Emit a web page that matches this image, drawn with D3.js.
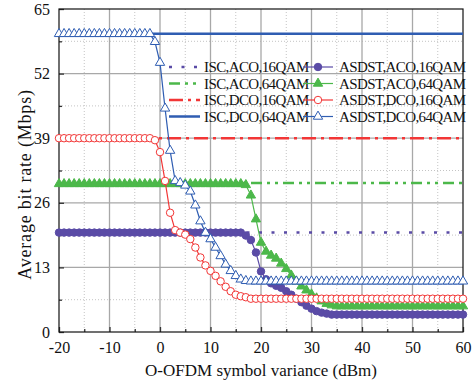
<!DOCTYPE html>
<html>
<head>
<meta charset="utf-8">
<script src="https://cdn.jsdelivr.net/npm/d3@7"></script>
<style>
  body { margin: 0; background: #fff; }
  text { font-family: "Liberation Serif", "Times New Roman", Times, serif; }
</style>
</head>
<body>
<div id="chart"></div>
<script>
// x grid of the curves (dBm), one point every 1 dBm
var variance = d3.range(-20, 61, 1);

// ISC reference levels (constant lines)
var iscAco16 = 20;
var iscAco64 = 30;
var iscDco16 = 39;
var iscDco64 = 60;

// ASDST curves (-20 ... 60 dBm)
var asdstAco16 = [
  20, 20, 20, 20, 20, 20, 20, 20, 20, 20,          // -20..-11
  20, 20, 20, 20, 20, 20, 20, 20, 20, 20,          // -10..-1
  20, 20, 20, 20, 20, 20, 20, 20, 20, 20,          // 0..9
  20, 20, 20, 20, 20, 20, 20, 19.4, 18.5, 16,      // 10..19
  12.2, 10.6, 9.8, 9.3, 8.9, 8.2, 7.5, 6.7, 6.0, 5.3, // 20..29
  4.7, 4.2, 3.9, 3.7, 3.5, 3.5, 3.5, 3.5, 3.5, 3.5,   // 30..39
  3.5, 3.5, 3.5, 3.5, 3.5, 3.5, 3.5, 3.5, 3.5, 3.5,   // 40..49
  3.5, 3.5, 3.5, 3.5, 3.5, 3.5, 3.5, 3.5, 3.5, 3.5,   // 50..59
  3.5                                              // 60
];
var asdstAco64 = [
  29.8, 29.8, 29.8, 29.8, 29.8, 29.8, 29.8, 29.8, 29.8, 29.8,
  29.8, 29.8, 29.8, 29.8, 29.8, 29.8, 29.8, 29.8, 29.8, 29.8,
  29.8, 29.8, 29.8, 29.8, 29.8, 29.8, 29.8, 29.8, 29.8, 29.8,
  29.8, 29.8, 29.8, 29.8, 29.8, 29.8, 29.8, 29.6, 27.5, 22.7,
  18, 16.2, 15.4, 14.8, 13.8, 12.7, 11.4, 10.2, 9.2, 8.4,
  7.6, 6.8, 6.2, 5.7, 5.4, 5.2, 5.2, 5.2, 5.2, 5.2,
  5.2, 5.2, 5.2, 5.2, 5.2, 5.2, 5.2, 5.2, 5.2, 5.2,
  5.2, 5.2, 5.2, 5.2, 5.2, 5.2, 5.2, 5.2, 5.2, 5.2,
  5.2
];
var asdstDco16 = [
  39, 39, 39, 39, 39, 39, 39, 39, 39, 39,
  39, 39, 39, 39, 39, 39, 39, 39, 39, 38.6,
  36.2, 30.4, 24, 20.5, 20, 19.6, 18.7, 17, 15, 13.4,
  12.3, 11.3, 10.2, 9.1, 8.2, 7.5, 7.2, 7.0, 6.7, 6.7,
  6.7, 6.7, 6.7, 6.7, 6.7, 6.7, 6.7, 6.7, 6.7, 6.7,
  6.7, 6.7, 6.7, 6.7, 6.7, 6.7, 6.7, 6.7, 6.7, 6.7,
  6.7, 6.7, 6.7, 6.7, 6.7, 6.7, 6.7, 6.7, 6.7, 6.7,
  6.7, 6.7, 6.7, 6.7, 6.7, 6.7, 6.7, 6.7, 6.7, 6.7,
  6.7
];
var asdstDco64 = [
  60, 60, 60, 60, 60, 60, 60, 60, 60, 60,
  60, 60, 60, 60, 60, 60, 60, 60, 60, 58.4,
  54.2, 45, 36.5, 30.4, 30, 29.5, 28.3, 25.5, 22.3, 20,
  18.7, 17, 15.3, 13.6, 12.3, 11.3, 10.6, 10.3, 10.2, 10.2,
  10.2, 10.2, 10.2, 10.2, 10.2, 10.2, 10.2, 10.2, 10.2, 10.2,
  10.2, 10.2, 10.2, 10.2, 10.2, 10.2, 10.2, 10.2, 10.2, 10.2,
  10.2, 10.2, 10.2, 10.2, 10.2, 10.2, 10.2, 10.2, 10.2, 10.2,
  10.2, 10.2, 10.2, 10.2, 10.2, 10.2, 10.2, 10.2, 10.2, 10.2,
  10.2
];

// tick labels
var xTicks = [-20, -10, 0, 10, 20, 30, 40, 50, 60];
var xMinor = [-15, -5, 5, 15, 25, 35, 45, 55];
var yTicks = [0, 13, 26, 39, 52, 65];
var yMinor = [6.5, 19.5, 32.5, 45.5, 58.5];

var purple = '#5a4ba6', green = '#4cb84a', red = '#f23636', blue = '#2f5db2';
var serif = 'Liberation Serif';

var fullWidth = 476, fullHeight = 386;
var margin = {top: 9, right: 13, bottom: 54, left: 59};
var width = fullWidth - margin.left - margin.right;
var height = fullHeight - margin.top - margin.bottom;

var svg = d3.select('#chart').append('svg')
  .attr('width', fullWidth)
  .attr('height', fullHeight)
  .attr('font-family', serif);

var g = svg.append('g')
  .attr('transform', 'translate(' + margin.left + ',' + margin.top + ')');

var x = d3.scaleLinear().domain([-20, 60]).range([0, width]);
var y = d3.scaleLinear().domain([0, 65]).range([height, 0]);

// grid: dotted minor, solid major
g.selectAll('.vminor').data(xMinor).enter().append('line')
  .attr('x1', d => x(d)).attr('x2', d => x(d)).attr('y1', 0).attr('y2', height)
  .attr('stroke', '#c4c4c4').attr('stroke-width', 1).attr('stroke-dasharray', '1,2');
g.selectAll('.hminor').data(yMinor).enter().append('line')
  .attr('y1', d => y(d)).attr('y2', d => y(d)).attr('x1', 0).attr('x2', width)
  .attr('stroke', '#c4c4c4').attr('stroke-width', 1).attr('stroke-dasharray', '1,2');
g.selectAll('.vmajor').data(xTicks.slice(1, -1)).enter().append('line')
  .attr('x1', d => x(d)).attr('x2', d => x(d)).attr('y1', 0).attr('y2', height)
  .attr('stroke', '#a8a8a8').attr('stroke-width', 1.3);
g.selectAll('.hmajor').data(yTicks.slice(1, -1)).enter().append('line')
  .attr('y1', d => y(d)).attr('y2', d => y(d)).attr('x1', 0).attr('x2', width)
  .attr('stroke', '#a8a8a8').attr('stroke-width', 1.3);

// axes with inward ticks
var xAxis = d3.axisBottom(x).tickValues(xTicks).tickSizeInner(-5).tickSizeOuter(0).tickPadding(10)
  .tickFormat(d => String(d));
var yAxis = d3.axisLeft(y).tickValues(yTicks).tickSizeInner(-5).tickSizeOuter(0).tickPadding(9);

var gx = g.append('g').attr('transform', 'translate(0,' + height + ')').call(xAxis);
var gy = g.append('g').call(yAxis);
g.append('g').attr('transform', 'translate(0,' + height + ')')
  .call(d3.axisBottom(x).tickValues(xMinor).tickSize(-3).tickFormat(''));
g.append('g').call(d3.axisLeft(y).tickValues(yMinor).tickSize(-3).tickFormat(''));

g.selectAll('.domain').remove();
g.selectAll('.tick line').attr('stroke', '#333').attr('stroke-width', 1.3);
g.selectAll('g').attr('font-family', serif);
gx.selectAll('text').attr('font-size', 16).attr('fill', '#111');
gy.selectAll('text').attr('font-size', 16).attr('fill', '#111');

// frame
g.append('rect').attr('width', width).attr('height', height)
  .attr('fill', 'none').attr('stroke', '#111').attr('stroke-width', 1.2);

// ISC lines
var isc = [
  {name: 'ISC,ACO,16QAM', value: iscAco16, color: purple, dash: '3,9.5', w: 2.5},
  {name: 'ISC,ACO,64QAM', value: iscAco64, color: green, dash: '11,5,3,5,3,5', w: 2.5},
  {name: 'ISC,DCO,16QAM', value: iscDco16, color: red, dash: '14,5,3,5', w: 2.5},
  {name: 'ISC,DCO,64QAM', value: iscDco64, color: blue, dash: null, w: 2.5}
];
isc.forEach(function(s) {
  g.append('line')
    .attr('x1', x(-20)).attr('x2', x(60))
    .attr('y1', y(s.value)).attr('y2', y(s.value))
    .attr('stroke', s.color).attr('stroke-width', s.w)
    .attr('stroke-dasharray', s.dash);
});

// ASDST curves
var asdst = [
  {name: 'ASDST,ACO,16QAM', values: asdstAco16, color: purple, shape: 'circle', fill: purple},
  {name: 'ASDST,ACO,64QAM', values: asdstAco64, color: green, shape: 'triangle', fill: green},
  {name: 'ASDST,DCO,16QAM', values: asdstDco16, color: red, shape: 'circle', fill: '#fff'},
  {name: 'ASDST,DCO,64QAM', values: asdstDco64, color: blue, shape: 'triangle', fill: '#fff'}
];

var line = d3.line().x((d, i) => x(variance[i])).y(d => y(d));
var circleSym = d3.symbol().type(d3.symbolCircle).size(44);
var triSym = d3.symbol().type(d3.symbolTriangle).size(38);

function marker(sel, s) {
  sel.append('path')
    .attr('d', s.shape === 'circle' ? circleSym() : triSym())
    .attr('fill', s.fill)
    .attr('stroke', s.color)
    .attr('stroke-width', 1);
}

asdst.forEach(function(s) {
  var sg = g.append('g');
  sg.append('path').datum(s.values)
    .attr('d', line).attr('fill', 'none')
    .attr('stroke', s.color).attr('stroke-width', 1.2);
  sg.selectAll('g.pt').data(s.values).enter().append('g')
    .attr('transform', (d, i) => 'translate(' + x(variance[i]) + ',' + y(d) + ')')
    .each(function() { marker(d3.select(this), s); });
});

// legend (no box)
var legend = svg.append('g').attr('font-size', 15).attr('letter-spacing', -0.6).attr('fill', '#111');
var rowY = [67, 83.5, 100, 116.5];
isc.forEach(function(s, i) {
  legend.append('line')
    .attr('x1', 169).attr('x2', 200).attr('y1', rowY[i]).attr('y2', rowY[i])
    .attr('stroke', s.color).attr('stroke-width', s.w).attr('stroke-dasharray', s.dash);
  legend.append('text').attr('x', 204).attr('y', rowY[i] + 5).text(s.name);
});
asdst.forEach(function(s, i) {
  legend.append('line')
    .attr('x1', 303).attr('x2', 333).attr('y1', rowY[i]).attr('y2', rowY[i])
    .attr('stroke', s.color).attr('stroke-width', 1.2);
  marker(legend.append('g').attr('transform', 'translate(318,' + rowY[i] + ')'), s);
  legend.append('text').attr('x', 339).attr('y', rowY[i] + 5).text(s.name);
});

// axis titles
svg.append('text')
  .attr('x', margin.left + width / 2).attr('y', 376)
  .attr('text-anchor', 'middle').attr('font-size', 17).attr('fill', '#111')
  .text('O-OFDM symbol variance (dBm)');
svg.append('text')
  .attr('transform', 'translate(31,' + (margin.top + height / 2 + 14) + ') rotate(-90)')
  .attr('text-anchor', 'middle').attr('font-size', 18).attr('letter-spacing', 0.8).attr('fill', '#111')
  .text('Average bit rate (Mbps)');
</script>
</body>
</html>
